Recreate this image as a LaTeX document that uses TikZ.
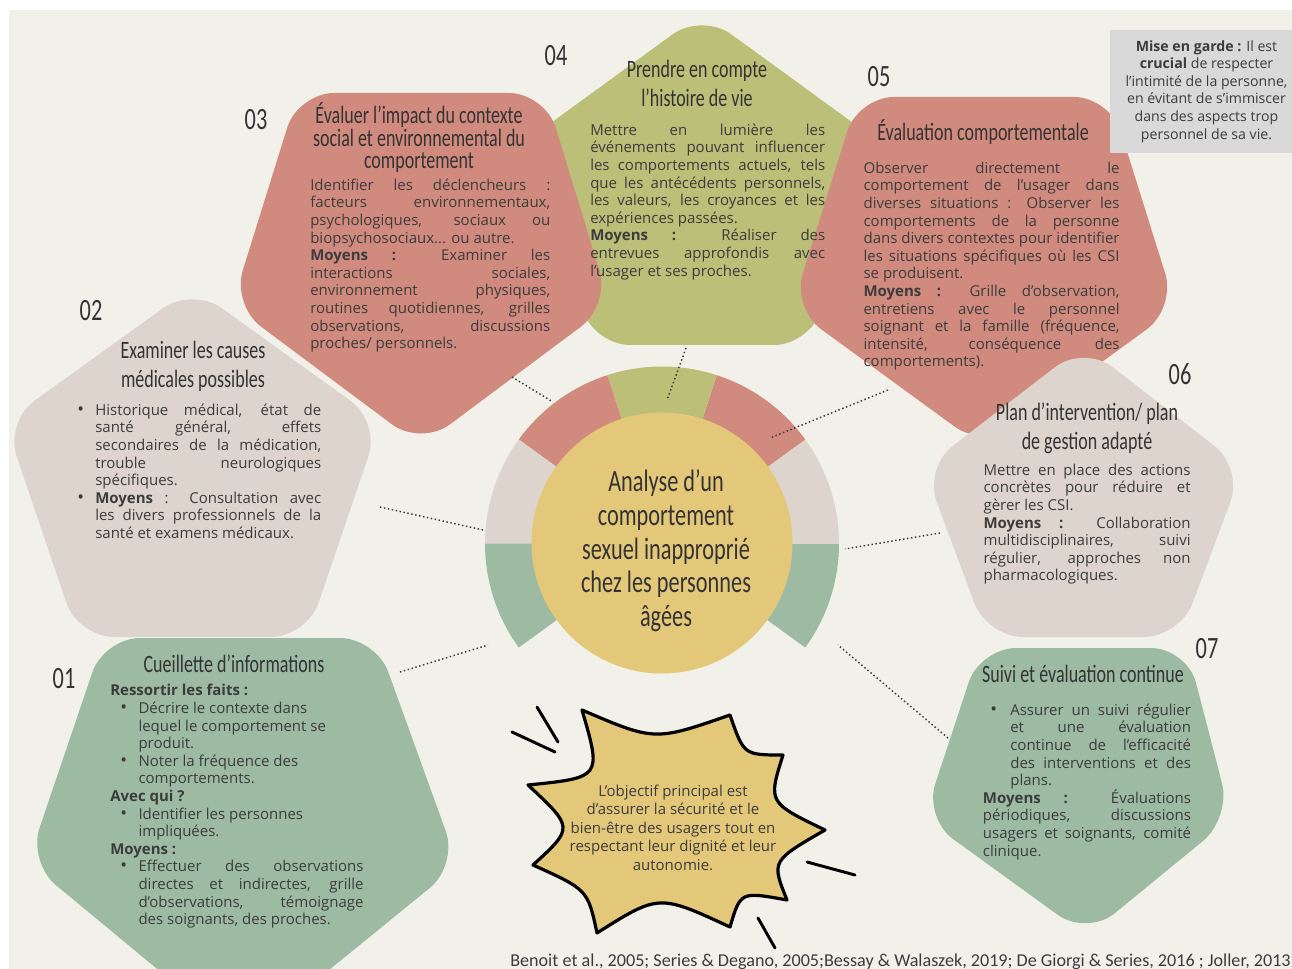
\documentclass[tikz,border=0pt]{standalone}
\usepackage{fontspec}
\setmainfont{Open Sans}
\newfontfamily\hand[FakeStretch=0.72]{Carlito}
\newfontfamily\citef{Carlito}
\usetikzlibrary{calc}
\definecolor{cBg}{HTML}{F1F1EA}
\definecolor{cRed}{HTML}{D18B7E}
\definecolor{cOlive}{HTML}{BBBF77}
\definecolor{cBeige}{HTML}{DDD5CD}
\definecolor{cSage}{HTML}{9DBBA3}
\definecolor{cYel}{HTML}{E4C87A}
\definecolor{cNote}{HTML}{D9D9D9}
\definecolor{cTxt}{HTML}{3C3C3C}
\definecolor{cHead}{HTML}{333333}
\hbadness=10000 \hfuzz=100pt \vbadness=10000 \vfuzz=100pt
\newcommand\jl[1]{\hbox to\hsize{\strut#1}}
\newcommand\rl[1]{\hbox{\strut#1}}
\newcommand\ctl[1]{\hbox to\hsize{\hfil\strut\smash{#1}\hfil}}
\newcommand\bu[1]{\hbox to#1{\fontsize{13.5}{13.2}\selectfont•\hfil}}
\newcommand\blok[2]{\vbox{\lineskiplimit=-1000pt\lineskip=0pt\hsize=#1\relax#2}}
\begin{document}
\begin{tikzpicture}[x=0.75pt,y=-0.75pt,
  body/.style={inner sep=0pt, anchor=north west, text=cTxt, font=\fontsize{11.25}{13.2}\selectfont},
  head/.style={inner sep=0pt, anchor=north, text=cHead, font=\hand\fontsize{18.75}{21.75}\selectfont},
  headone/.style={inner sep=0pt, anchor=base, text=cHead, font=\hand\fontsize{18.75}{22}\selectfont},
  num/.style={inner sep=0pt, text=cHead, font=\hand\fontsize{23.25}{24}\selectfont},
  pent/.style={rounded corners=27pt},
  dotline/.style={draw=cTxt, line width=1.1pt, dash pattern=on 1.1pt off 1.9pt},
  brush/.style={line width=2.2pt, line cap=round, draw=black}]
\useasboundingbox (0,0) rectangle (1292,969);
\fill[white] (0,0) rectangle (1292,969);
\begin{scope}
\clip (9,10) rectangle (1292,969);
\fill[cBg] (9,10) rectangle (1292,969);
% 04 olive
\fill[cOlive, pent] (789.25,76.5) -- (876.5,140) -- (810,345) -- (594,345) -- (527.5,140) -- (702,13) -- cycle;
% 02 beige
\fill[cBeige, pent] (286.25,354.5) -- (380,422) -- (307,637) -- (78,637) -- (5,422) -- (192.5,287) -- cycle;
% 03 red
\fill[cRed, pent] (421.5,93) -- (545,93) -- (610,305) -- (421,446) -- (232,305) -- (298,93) -- cycle;
% 05 red
\fill[cRed, pent] (984,97) -- (1110,97) -- (1176,308) -- (984,448) -- (792,308) -- (858,97) -- cycle;
% 06 beige
\fill[cBeige, pent] (1163.5,406.5) -- (1243,468) -- (1180,637) -- (987,637) -- (924,468) -- (1084,345) -- cycle;
% 07 sage
\fill[cSage, pent] (1083.5,648) -- (1187,648) -- (1231,818) -- (1087,936) -- (924,818) -- (980,648) -- cycle;
% 01 sage
\fill[cSage, pent] (240,638) -- (376,638) -- (458,865) -- (243,1040) -- (28,862) -- (104,638) -- cycle;
\end{scope}
% ring
\foreach \a/\b/\c in {36/0/cSage, 0/-36/cBeige, -36/-72/cRed, -72/-108/cOlive, -108/-144/cRed, -144/-180/cBeige, -180/-216/cSage}
  \fill[\c] (662,543.5) -- ++(\a:177) arc[start angle=\a, end angle=\b, radius=177] -- cycle;
\node[circle, fill=cYel, inner sep=0pt, minimum size=195.75pt] (core) at (662,543) {};
% connectors
\coordinate (c3a) at (512,377); \coordinate (c3b) at (553,402);
\coordinate (c4a) at (686,348); \coordinate (c4b) at (667,400);
\coordinate (c5a) at (888,390); \coordinate (c5b) at (770,438);
\coordinate (c2a) at (380,507); \coordinate (c2b) at (483,530);
\coordinate (c6a) at (940,533); \coordinate (c6b) at (845,549);
\coordinate (c1a) at (400,672); \coordinate (c1b) at (488,645);
\coordinate (c7a) at (948,738); \coordinate (c7b) at (838,645);
\draw[dotline] (c3a) -- (c3b);
\draw[dotline] (c4a) -- (c4b);
\draw[dotline] (c5a) -- (c5b);
\draw[dotline] (c2a) -- (c2b);
\draw[dotline] (c6a) -- (c6b);
\draw[dotline] (c1a) -- (c1b);
\draw[dotline] (c7a) -- (c7b);
% note box
\node[fill=cNote, inner sep=0pt, minimum width=144.75pt, minimum height=92.25pt, text=cTxt, font=\fontsize{10.6}{13.2}\selectfont] (warn) at (1206.5,91.5) {\blok{136pt}{%
\ctl{\textbf{Mise en garde :} Il est}
\ctl{\textbf{crucial} de respecter}
\ctl{l’intimité de la personne,}
\ctl{en évitant de s’immiscer}
\ctl{dans des aspects trop}
\ctl{personnel de sa vie.}}};
% starburst
\filldraw[fill=cYel, draw=black, line width=2.4pt, line join=round]
 (582,710) .. controls (654.7,741.2) .. (730,715) .. controls (743.8,755) .. (783,755)
 .. controls (768,802.5) .. (825,830) .. controls (771.3,861) .. (787,900)
 .. controls (740.5,891.5) .. (730,927) .. controls (658.8,894) .. (597,933)
 .. controls (587.7,889.7) .. (533,865) .. controls (573.8,827.7) .. (528,785)
 .. controls (601.7,777.5) .. (582,710) -- cycle;
\draw[brush] (537,707) -- (558,742);
\draw[brush] (512,732) -- (555,752);
\draw[brush] (807,862) -- (855,875);
\draw[brush] (758,918) -- (775,948);
\node[inner sep=0pt, anchor=north, text=cTxt, font=\fontsize{11.25}{13.9}\selectfont] (goal) at (673,783) {\blok{200pt}{%
\ctl{L’objectif principal est}
\ctl{d’assurer la sécurité et le}
\ctl{bien-être des usagers tout en}
\ctl{respectant leur dignité et leur}
\ctl{autonomie.}}};
% center text
\node[inner sep=0pt, anchor=north, text=cHead, font=\hand\fontsize{23.25}{25.4}\selectfont] (coretxt) at (666,467.3) {\blok{200pt}{%
\ctl{Analyse d’un}
\ctl{comportement}
\ctl{sexuel inapproprié}
\ctl{chez les personnes}
\ctl{âgées}}};
% numbers
\node[num] (n01) at (64,679) {01};
\node[num] (n02) at (91,311) {02};
\node[num] (n03) at (256,120) {03};
\node[num] (n04) at (556,56) {04};
\node[num] (n05) at (879,77) {05};
\node[num] (n06) at (1180,374) {06};
\node[num] (n07) at (1207,649) {07};
% titles
\node[head, font=\hand\fontsize{18.75}{16.9}\selectfont] (t03) at (419,107.5) {\blok{300pt}{%
\ctl{Évaluer l’impact du contexte}
\ctl{social et environnemental du}
\ctl{comportement}}};
\node[head] (t04) at (697,56.7) {\blok{300pt}{%
\ctl{Prendre en compte}
\ctl{l’histoire de vie}}};
\node[head] (t02) at (193,337.7) {\blok{300pt}{%
\ctl{Examiner les causes}
\ctl{médicales possibles}}};
\node[head] (t06) at (1087,399.7) {\blok{300pt}{%
\ctl{Plan d’intervention/ plan}
\ctl{de gestion adapté}}};
\node[headone] (t05) at (983,141) {Évaluation comportementale};
\node[headone] (t01) at (234,672) {Cueillette d’informations};
\node[headone] (t07) at (1083,682) {Suivi et évaluation continue};
% bodies
\node[body] (b02) at (77,402.7) {\blok{183pt}{%
\jl{\bu{13.5pt}Historique médical, état de}
\jl{\hskip13.5pt\relax santé général, effets}
\jl{\hskip13.5pt\relax secondaires de la médication,}
\jl{\hskip13.5pt\relax trouble neurologiques}
\rl{\hskip13.5pt\relax spécifiques.}
\jl{\bu{13.5pt}\textbf{Moyens} : Consultation avec}
\jl{\hskip13.5pt\relax les divers professionnels de la}
\rl{\hskip13.5pt\relax santé et examens médicaux.}}};
\node[body] (b03) at (310,177.7) {\blok{180pt}{%
\jl{Identifier les déclencheurs :}
\jl{facteurs environnementaux,}
\jl{psychologiques, sociaux ou}
\rl{biopsychosociaux... ou autre.}
\jl{\textbf{Moyens :} Examiner les}
\jl{interactions sociales,}
\jl{environnement physiques,}
\jl{routines quotidiennes, grilles}
\jl{observations, discussions}
\rl{proches/ personnels.}}};
\node[body] (b04) at (590,122.7) {\blok{176.25pt}{%
\jl{Mettre en lumière les}
\jl{événements pouvant influencer}
\jl{les comportements actuels, tels}
\jl{que les antécédents personnels,}
\jl{les valeurs, les croyances et les}
\rl{expériences passées.}
\jl{\textbf{Moyens :} Réaliser des}
\jl{entrevues approfondis avec}
\rl{l’usager et ses proches.}}};
\node[body] (b05) at (863.3,160.7) {\blok{192pt}{%
\jl{Observer directement le}
\jl{comportement de l’usager dans}
\jl{diverses situations : Observer les}
\jl{comportements de la personne}
\jl{dans divers contextes pour identifier}
\jl{les situations spécifiques où les CSI}
\rl{se produisent.}
\jl{\textbf{Moyens :} Grille d’observation,}
\jl{entretiens avec le personnel}
\jl{soignant et la famille (fréquence,}
\jl{intensité, conséquence des}
\rl{comportements).}}};
\node[body] (b06) at (983.3,462.7) {\blok{155.25pt}{%
\jl{Mettre en place des actions}
\jl{concrètes pour réduire et}
\rl{gèrer les CSI.}
\jl{\textbf{Moyens :} Collaboration}
\jl{multidisciplinaires, suivi}
\jl{régulier, approches non}
\rl{pharmacologiques.}}};
\node[body] (b01) at (110,683.4) {\blok{190pt}{%
\rl{\textbf{Ressortir les faits :}}
\rl{\hskip7.5pt\relax\bu{13.7pt}Décrire le contexte dans}
\rl{\hskip21.2pt\relax lequel le comportement se}
\rl{\hskip21.2pt\relax produit.}
\rl{\hskip7.5pt\relax\bu{13.7pt}Noter la fréquence des}
\rl{\hskip21.2pt\relax comportements.}
\rl{\textbf{Avec qui ?}}
\rl{\hskip7.5pt\relax\bu{13.7pt}Identifier les personnes}
\rl{\hskip21.2pt\relax impliquées.}
\rl{\textbf{Moyens :}}
\jl{\hskip7.5pt\relax\bu{13.7pt}Effectuer des observations}
\jl{\hskip21.2pt\relax directes et indirectes, grille}
\jl{\hskip21.2pt\relax d’observations, témoignage}
\rl{\hskip21.2pt\relax des soignants, des proches.}}};
\node[body] (b07) at (982.7,702.7) {\blok{156pt}{%
\jl{\hskip5.5pt\relax\bu{15pt}Assurer un suivi régulier}
\jl{\hskip20.5pt\relax et une évaluation}
\jl{\hskip20.5pt\relax continue de l’efficacité}
\jl{\hskip20.5pt\relax des interventions et des}
\rl{\hskip20.5pt\relax plans.}
\jl{\textbf{Moyens :} Évaluations}
\jl{périodiques, discussions}
\jl{usagers et soignants, comité}
\rl{clinique.}}};
% citation
\node[anchor=base west, inner sep=0pt, text=cTxt, font=\citef\fontsize{13.6}{15}\selectfont] (cite) at (510,966) {Benoit et al., 2005; Series \& Degano, 2005;Bessay \& Walaszek, 2019; De Giorgi \& Series, 2016 ; Joller, 2013};
\end{tikzpicture}
\end{document}
